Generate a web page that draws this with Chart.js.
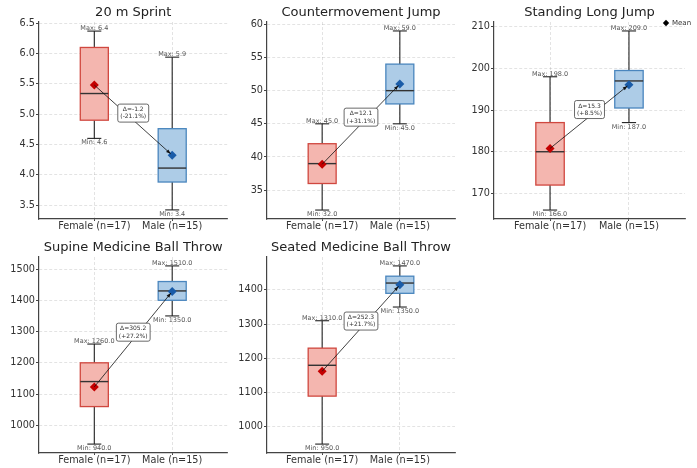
<!DOCTYPE html>
<html><head><meta charset="utf-8">
<script src="https://cdn.jsdelivr.net/npm/chart.js@4/dist/chart.umd.min.js"></script>
<style>
html,body{margin:0;padding:0;background:#fff;width:697px;height:468px;overflow:hidden;}
.cell{position:absolute;}
canvas{display:block;}
</style></head><body>
<div class="cell" style="left:0px;top:0px;"><canvas id="k0" width="232" height="240"></canvas></div>
<div class="cell" style="left:232px;top:0px;"><canvas id="k1" width="230" height="240"></canvas></div>
<div class="cell" style="left:462px;top:0px;"><canvas id="k2" width="235" height="240"></canvas></div>
<div class="cell" style="left:0px;top:234px;"><canvas id="k3" width="232" height="234"></canvas></div>
<div class="cell" style="left:232px;top:234px;"><canvas id="k4" width="230" height="234"></canvas></div>
<script>
// ---------- data ----------
const panelTitles = ["20 m Sprint", "Countermovement Jump", "Standing Long Jump", "Supine Medicine Ball Throw", "Seated Medicine Ball Throw"];
const groups = ["Female (n=17)", "Male (n=15)"];
const femaleMin    = [4.6, 32, 166, 940, 950];
const femaleQ1     = [4.9, 36, 172, 1060, 1090];
const femaleMedian = [5.34, 39, 180, 1140, 1180];
const femaleQ3     = [6.1, 42, 187, 1200, 1230];
const femaleMax    = [6.37, 45, 198, 1260, 1310];
const femaleMean   = [5.48, 38.9, 180.8, 1123, 1162.5];
const maleMin      = [3.42, 45, 187, 1350, 1350];
const maleQ1       = [3.88, 48, 190.5, 1400, 1390];
const maleMedian   = [4.11, 50, 197, 1430, 1420];
const maleQ3       = [4.76, 54, 199.5, 1460, 1440];
const maleMax      = [5.94, 59, 209, 1510, 1470];
const maleMean     = [4.323, 51.0, 196.1, 1428.2, 1414.8];
const yMin = [3.27, 30.65, 163.85, 911.5, 924];
const yMax = [6.52, 60.35, 211.15, 1538.5, 1496];
const yTicks = [
  [3.5, 4.0, 4.5, 5.0, 5.5, 6.0, 6.5],
  [35, 40, 45, 50, 55, 60],
  [170, 180, 190, 200, 210],
  [1000, 1100, 1200, 1300, 1400, 1500],
  [1000, 1100, 1200, 1300, 1400]
];
const yTickDecimals = [1, 0, 0, 0, 0];
const legendLabel = "Mean";

// ---------- style ----------
const FONT = "'DejaVu Sans', 'Liberation Sans', sans-serif";
const femaleFill = '#F4B6AF', femaleEdge = '#D0473F', femaleMeanColor = '#C40000';
const maleFill = '#ADCCE7', maleEdge = '#4A86BE', maleMeanColor = '#1A5CA8';
const BOXW = 0.36;
const layoutCfg = [
  {yw: 39, pr: 4, pt: 22, xh: 21},
  {yw: 35, pr: 7, pt: 22, xh: 21},
  {yw: 32, pr: 12, pt: 22, xh: 21},
  {yw: 39, pr: 4, pt: 23, xh: 15},
  {yw: 35, pr: 7, pt: 23, xh: 15}
];

function stats(i) {
  return [
    {min: femaleMin[i], q1: femaleQ1[i], med: femaleMedian[i], q3: femaleQ3[i], max: femaleMax[i], fill: femaleFill, edge: femaleEdge},
    {min: maleMin[i], q1: maleQ1[i], med: maleMedian[i], q3: maleQ3[i], max: maleMax[i], fill: maleFill, edge: maleEdge}
  ];
}
function seg(ctx, x1, y1, x2, y2) { ctx.beginPath(); ctx.moveTo(x1, y1); ctx.lineTo(x2, y2); ctx.stroke(); }

const boxPlugin = {
  id: 'boxes',
  beforeDatasetsDraw(chart) {
    const i = chart.options.plugins.boxes.panel;
    const {ctx, scales: {x, y}} = chart;
    ctx.save();
    stats(i).forEach((s, g) => {
      const cx = x.getPixelForValue(g + 1);
      const hw = x.getPixelForValue(g + 1 + BOXW / 2) - cx;
      const pMin = y.getPixelForValue(s.min), pMax = y.getPixelForValue(s.max);
      const pQ1 = y.getPixelForValue(s.q1), pQ3 = y.getPixelForValue(s.q3), pMed = y.getPixelForValue(s.med);
      ctx.strokeStyle = '#222'; ctx.lineWidth = 1.1;
      seg(ctx, cx, pQ3, cx, pMax); seg(ctx, cx, pQ1, cx, pMin);
      seg(ctx, cx - hw / 2, pMax, cx + hw / 2, pMax); seg(ctx, cx - hw / 2, pMin, cx + hw / 2, pMin);
      ctx.fillStyle = s.fill; ctx.fillRect(cx - hw, pQ3, 2 * hw, pQ1 - pQ3);
      ctx.strokeStyle = s.edge; ctx.lineWidth = 1.3; ctx.strokeRect(cx - hw, pQ3, 2 * hw, pQ1 - pQ3);
      ctx.strokeStyle = '#333'; ctx.lineWidth = 1.4; seg(ctx, cx - hw, pMed, cx + hw, pMed);
    });
    ctx.restore();
  },
  afterDatasetsDraw(chart) {
    const i = chart.options.plugins.boxes.panel;
    const {ctx, scales: {x, y}, chartArea} = chart;
    ctx.save();
    // min / max labels
    ctx.font = '6.5px ' + FONT; ctx.fillStyle = '#555'; ctx.textAlign = 'center';
    stats(i).forEach((s, g) => {
      const cx = x.getPixelForValue(g + 1);
      ctx.textBaseline = 'bottom'; ctx.fillText('Max: ' + s.max.toFixed(1), cx, y.getPixelForValue(s.max) + 0.5);
      ctx.textBaseline = 'top'; ctx.fillText('Min: ' + s.min.toFixed(1), cx, y.getPixelForValue(s.min) + 1);
    });
    // arrow between means
    const x1 = x.getPixelForValue(1), y1 = y.getPixelForValue(femaleMean[i]);
    const x2 = x.getPixelForValue(2), y2 = y.getPixelForValue(maleMean[i]);
    const ang = Math.atan2(y2 - y1, x2 - x1);
    const ex = x2 - Math.cos(ang) * 2, ey = y2 - Math.sin(ang) * 2;
    ctx.strokeStyle = '#111'; ctx.lineWidth = 0.8;
    seg(ctx, x1, y1, ex, ey);
    ctx.fillStyle = '#111';
    ctx.beginPath();
    ctx.moveTo(ex, ey);
    ctx.lineTo(ex - Math.cos(ang - 0.35) * 5, ey - Math.sin(ang - 0.35) * 5);
    ctx.lineTo(ex - Math.cos(ang + 0.35) * 5, ey - Math.sin(ang + 0.35) * 5);
    ctx.closePath(); ctx.fill();
    // delta label
    const d = maleMean[i] - femaleMean[i];
    const pct = d / femaleMean[i] * 100;
    const sign = v => (v >= 0 ? '+' : '') + v.toFixed(1);
    const l1 = '\u0394=' + d.toFixed(1), l2 = '(' + sign(pct) + '%)';
    ctx.font = '6px ' + FONT;
    const tw = Math.max(ctx.measureText(l1).width, ctx.measureText(l2).width);
    const mx = (x1 + x2) / 2, my = (y1 + y2) / 2 - 7;
    const bw = tw + 5, bh = 18;
    ctx.fillStyle = '#fff'; ctx.strokeStyle = '#444'; ctx.lineWidth = 0.8;
    ctx.beginPath();
    if (ctx.roundRect) ctx.roundRect(mx - bw / 2, my - bh / 2, bw, bh, 2); else ctx.rect(mx - bw / 2, my - bh / 2, bw, bh);
    ctx.fill(); ctx.stroke();
    ctx.fillStyle = '#333'; ctx.textAlign = 'center'; ctx.textBaseline = 'middle';
    ctx.fillText(l1, mx, my - 3.6);
    ctx.fillText(l2, mx, my + 3.8);
    // title
    ctx.font = '13px ' + FONT; ctx.fillStyle = '#222'; ctx.textBaseline = 'middle';
    ctx.fillText(panelTitles[i], (chartArea.left + chartArea.right) / 2, chartArea.top - 9);
    // legend
    if (i === 2) {
      const lx = 204, ly = 23;
      ctx.fillStyle = '#000';
      ctx.beginPath(); ctx.moveTo(lx, ly - 3.2); ctx.lineTo(lx + 3.2, ly); ctx.lineTo(lx, ly + 3.2); ctx.lineTo(lx - 3.2, ly); ctx.closePath(); ctx.fill();
      ctx.font = '7px ' + FONT; ctx.fillStyle = '#333'; ctx.textAlign = 'left';
      ctx.fillText(legendLabel, lx + 6, ly + 0.5);
    }
    ctx.restore();
  }
};

for (let i = 0; i < 5; i++) {
  const L = layoutCfg[i];
  new Chart(document.getElementById('k' + i), {
    type: 'scatter',
    data: {
      datasets: [{
        data: [{x: 1, y: femaleMean[i]}, {x: 2, y: maleMean[i]}],
        pointStyle: 'rectRot', pointRadius: 4.5,
        backgroundColor: [femaleMeanColor, maleMeanColor],
        borderColor: [femaleMeanColor, maleMeanColor], borderWidth: 0
      }]
    },
    options: {
      responsive: false, animation: false, events: [],
      layout: {padding: {left: 0, top: L.pt, right: L.pr, bottom: 0}},
      plugins: {legend: {display: false}, tooltip: {enabled: false}, title: {display: false}, boxes: {panel: i}},
      scales: {
        x: {
          type: 'linear', min: 0.29, max: 2.71,
          afterBuildTicks: s => { s.ticks = [{value: 1}, {value: 2}]; },
          afterFit: s => { s.height = L.xh; },
          ticks: {callback: v => groups[v - 1], font: {family: FONT, size: 9.7}, color: '#333', padding: 0, maxRotation: 0, autoSkip: false},
          grid: {color: 'rgba(0,0,0,0.16)', lineWidth: 0.7, tickLength: 2, tickColor: '#444', tickWidth: 1, tickBorderDash: []},
          border: {display: true, color: '#444', width: 1.2, dash: [3, 2]}
        },
        y: {
          type: 'linear', min: yMin[i], max: yMax[i],
          afterBuildTicks: s => { s.ticks = yTicks[i].map(v => ({value: v})); },
          afterFit: s => { s.width = L.yw; },
          ticks: {callback: v => Number(v).toFixed(yTickDecimals[i]), font: {family: FONT, size: 9.7}, color: '#333', padding: 1, autoSkip: false},
          grid: {color: 'rgba(0,0,0,0.16)', lineWidth: 0.7, tickLength: 3, tickColor: '#444', tickWidth: 1, tickBorderDash: []},
          border: {display: true, color: '#444', width: 1.2, dash: [3, 2]}
        }
      }
    },
    plugins: [boxPlugin]
  });
}
</script>
</body></html>
